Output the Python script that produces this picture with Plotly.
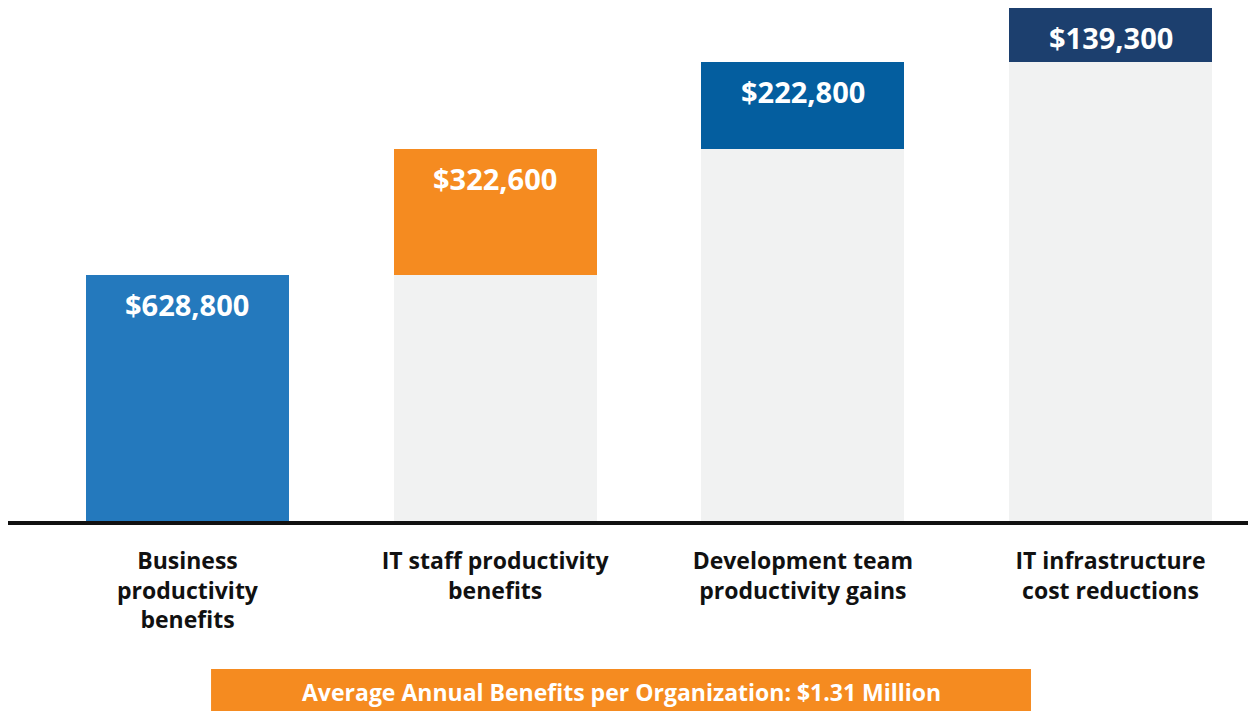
import plotly.graph_objects as go

categories = ["Business<br>productivity<br>benefits", "IT staff productivity<br>benefits",
              "Development team<br>productivity gains", "IT infrastructure<br>cost reductions"]
values = [628800, 322600, 222800, 139300]
value_labels = ["$628,800", "$322,600", "$222,800", "$139,300"]
colors = ["#2479bd", "#f58b20", "#045e9f", "#1c3f6e"]
banner_text = "Average Annual Benefits per Organization: $1.31 Million"

bases = []
run = 0
for v in values:
    bases.append(run)
    run += v
tops = [b + v for b, v in zip(bases, values)]
xs = list(range(len(values)))

FONT = "Open Sans"
fig = go.Figure()
fig.add_trace(go.Bar(x=xs, y=bases, marker=dict(color="#f1f2f2", line=dict(width=0)),
                     width=0.66, hoverinfo="skip"))
fig.add_trace(go.Bar(x=xs, y=values, marker=dict(color=colors, line=dict(width=0)),
                     width=0.66))

for x, t, lab in zip(xs, tops, value_labels):
    fig.add_annotation(x=x, y=t, text=f"<b>{lab}</b>", showarrow=False, yanchor="middle",
                       yshift=-29, font=dict(family=FONT, size=29, color="white"))

fig.add_shape(type="rect", xref="paper", yref="paper", x0=0.1627, x1=0.8197, y0=-0.42, y1=-0.2885,
              fillcolor="#f58b20", line=dict(width=0), layer="below")
fig.add_annotation(xref="paper", yref="paper", x=0.4912, y=-0.3333, text=f"<b>{banner_text}</b>",
                   showarrow=False, yanchor="middle", font=dict(family=FONT, size=23, color="white"))

fig.update_layout(
    barmode="stack", showlegend=False, width=1248, height=711,
    margin=dict(l=0, r=0, t=0, b=198),
    paper_bgcolor="white", plot_bgcolor="white",
    xaxis=dict(range=[-0.5834, 3.4729], tickvals=xs, ticktext=[f"<b>{c}</b>" for c in categories],
               showline=True, linecolor="#111111", linewidth=4, showgrid=False, zeroline=False,
               ticks="", ticklabelstandoff=16, tickfont=dict(family=FONT, size=23, color="#111111")),
    yaxis=dict(range=[0, 1313500], visible=False, showgrid=False, zeroline=False),
    font=dict(family=FONT),
)
fig.write_html("out.html")
